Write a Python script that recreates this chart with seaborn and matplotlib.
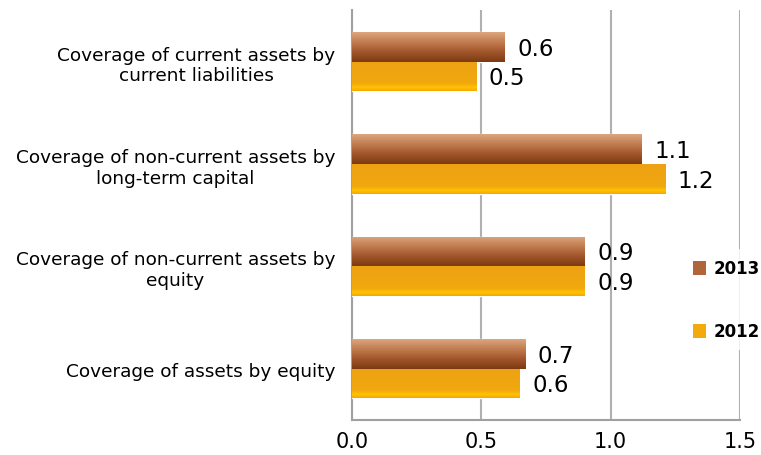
import matplotlib
matplotlib.use("Agg")
import matplotlib.pyplot as plt
import numpy as np
import pandas as pd
import seaborn as sns
from matplotlib.colors import LinearSegmentedColormap
from matplotlib.patches import Patch

categories = [
    "Coverage of current assets by\ncurrent liabilities",
    "Coverage of non-current assets by\nlong-term capital",
    "Coverage of non-current assets by\nequity",
    "Coverage of assets by equity",
]
years = ["2013", "2012"]
values_2013 = [0.59, 1.12, 0.90, 0.67]
values_2012 = [0.48, 1.21, 0.90, 0.648]
x_ticks = [0.0, 0.5, 1.0, 1.5]

df = pd.DataFrame({
    "category": categories * 2,
    "year": ["2013"] * len(categories) + ["2012"] * len(categories),
    "value": values_2013 + values_2012,
})

# gradients similar to the office-style bars
grad = {
    "2013": LinearSegmentedColormap.from_list(
        "g13", ["#dca67f", "#c17c50", "#a2552a", "#7b3a12"]),
    "2012": LinearSegmentedColormap.from_list(
        "g12", [(0, "#eca214"), (0.75, "#f2a80e"), (0.88, "#ffc300"), (1, "#f7a600")]),
}
solid = {"2013": "#b0653a", "2012": "#f4aa0c"}

sns.set_style("white")
plt.rcParams["font.family"] = ["DejaVu Sans"]
plt.rcParams["text.color"] = "black"
plt.rcParams["xtick.labelcolor"] = "black"
plt.rcParams["ytick.labelcolor"] = "black"

fig = plt.figure(figsize=(7.61, 4.56), dpi=100)
ax = fig.add_axes([0.4625, 0.0774, 0.51, 0.8976])

sns.barplot(data=df, y="category", x="value", hue="year", hue_order=years,
            order=categories, orient="h", width=0.58, palette=solid,
            legend=False, ax=ax, zorder=3)

grad_arr = np.linspace(0, 1, 200).reshape(-1, 1)
n = len(categories)
for i, p in enumerate(ax.patches[: 2 * n]):
    yr = years[i // n]
    x0, y0 = p.get_x(), p.get_y()
    w, h = p.get_width(), p.get_height()
    im = ax.imshow(grad_arr, cmap=grad[yr], aspect="auto", origin="upper",
                   extent=(x0, x0 + w, y0 + h, y0), zorder=4)
    im.set_clip_path(p)
    ax.annotate(f"{w:.1f}", (x0 + w, y0 + h / 2), xytext=(9, -1),
                textcoords="offset points", ha="left", va="center",
                fontsize=16.5, color="black")

ax.set_xlim(0, 1.5)
ax.set_ylim(n - 0.5, -0.5)

ax.set_xticks(x_ticks)
ax.set_xticklabels([f"{t:.1f}" for t in x_ticks], fontsize=15)
ax.set_yticks(range(n))
ax.set_yticklabels(categories, fontsize=13.3, multialignment="center")
ax.set_yticks(np.arange(-0.5, n, 1), minor=True)
ax.tick_params(axis="y", which="major", length=0, pad=12)
ax.tick_params(axis="y", which="minor", length=6, color="#a0a0a0", width=1.3, direction="out")
ax.tick_params(axis="x", length=6, color="#a0a0a0", width=1.3, direction="out", pad=2)
ax.set_xlabel("")
ax.set_ylabel("")

ax.grid(axis="x", color="#b0b0b0", lw=1.5, zorder=0)
ax.grid(axis="y", visible=False)
sns.despine(ax=ax, top=True, right=True)
for s in ["left", "bottom"]:
    ax.spines[s].set_color("#a0a0a0")
    ax.spines[s].set_linewidth(1.5)

handles = [Patch(facecolor=solid[y], edgecolor="none") for y in years]
leg = fig.legend(handles, years, loc="center left", bbox_to_anchor=(0.897, 0.34),
                 frameon=True, prop={"weight": "bold", "size": 12},
                 handlelength=0.8, handleheight=0.9, handletextpad=0.45,
                 labelspacing=2.7, borderpad=0.6, borderaxespad=0)
leg.get_frame().set_facecolor("white")
leg.get_frame().set_edgecolor("none")

fig.savefig("out.png", dpi=100)
